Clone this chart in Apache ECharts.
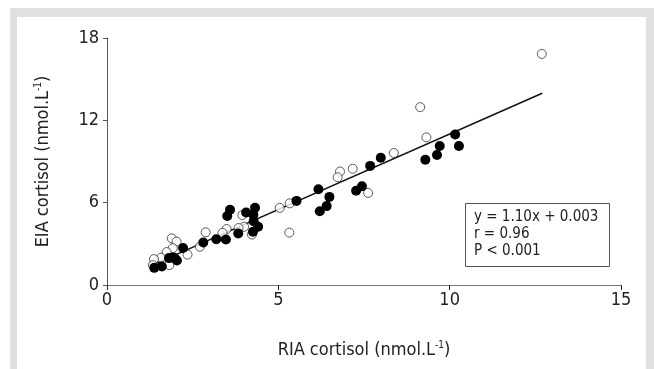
<!DOCTYPE html>
<html>
<head>
<meta charset="utf-8">
<script src="https://cdn.jsdelivr.net/npm/echarts@6/dist/echarts.min.js"></script>
<style>
html,body{margin:0;padding:0;background:#fff;}
#c{width:654px;height:369px;}
</style>
</head>
<body>
<div id="c"></div>
<script>
// Open circles (x = RIA, y = EIA)
const openPoints = [
  [12.69,16.84],[9.14,12.96],[9.32,10.76],[8.37,9.62],[7.17,8.47],[6.80,8.27],[6.73,7.85],
  [7.62,6.71],[5.33,5.95],[5.04,5.62],[5.32,3.82],[3.95,5.10],[4.00,4.24],[3.84,4.15],
  [3.49,4.08],[3.37,3.80],[4.23,3.68],[2.88,3.84],[2.71,2.79],[2.35,2.21],[1.89,3.40],
  [2.03,3.16],[1.92,2.68],[1.74,2.40],[1.58,1.99],[1.37,1.89],[1.34,1.45],[1.82,1.45]
];
// Filled circles
const filledPoints = [
  [10.16,10.97],[10.27,10.13],[9.71,10.13],[9.63,9.47],[9.29,9.13],[7.99,9.27],[7.68,8.68],
  [7.44,7.20],[7.27,6.87],[6.49,6.42],[6.41,5.75],[6.21,5.38],[6.17,6.98],[5.53,6.13],
  [4.32,5.63],[4.27,5.12],[4.06,5.28],[4.28,4.64],[4.41,4.25],[4.26,3.88],[3.83,3.76],
  [3.59,5.48],[3.51,5.03],[3.47,3.32],[3.19,3.33],[2.81,3.10],[2.22,2.69],[2.04,1.78],
  [1.93,2.00],[1.81,1.96],[1.98,1.95],[1.60,1.35],[1.38,1.25]
];
// Regression line endpoints (y = 1.10x + 0.003)
const fitLine = [[1.40,1.54],[12.70,13.97]];
const xTicks = [0,5,10,15];
const yTicks = [0,6,12,18];
const statsLines = ['y = 1.10x + 0.003','r = 0.96','P < 0.001'];

const FONT = '"Liberation Sans Narrow","DejaVu Sans Condensed","Noto Sans",sans-serif';
const nameRich = {
  a:{fontFamily:FONT,fontSize:18,color:'#222',lineHeight:22},
  s:{fontFamily:FONT,fontSize:10,color:'#222',lineHeight:22,padding:[0,0,9,0]}
};
const chart = echarts.init(document.getElementById('c'), null, {renderer:'canvas'});
chart.setOption({
  animation:false,
  backgroundColor:'#ffffff',
  graphic:[
    {type:'rect', z:-10, shape:{x:10,y:8,width:660,height:380}, style:{fill:'#e0e0e0'}},
    {type:'rect', z:-9, shape:{x:17,y:17,width:629,height:370}, style:{fill:'#ffffff'}},
    {type:'rect', z:5, shape:{x:465.5,y:203.5,width:144,height:63}, style:{fill:'#fff',stroke:'#555',lineWidth:1}},
    {type:'text', z:6, left:474, top:209, style:{text:statsLines.join('\n'), font:'15px '+FONT, fill:'#222', lineHeight:17}}
  ],
  grid:{left:107, right:33, top:38, bottom:84},
  xAxis:{
    type:'value', min:0, max:15, interval:5,
    name:'{a|RIA cortisol (nmol.L}{s|-1}{a|)}', nameLocation:'middle', nameGap:54,
    nameTextStyle:{rich:nameRich},
    axisLine:{lineStyle:{color:'#777',width:1}},
    axisTick:{show:true,length:5,lineStyle:{color:'#222'}},
    axisLabel:{fontFamily:FONT,fontSize:18,color:'#222',margin:6},
    splitLine:{show:false}
  },
  yAxis:{
    type:'value', min:0, max:18, interval:6,
    name:'{a|EIA cortisol (nmol.L}{s|-1}{a|)}', nameLocation:'middle', nameGap:53,
    nameTextStyle:{rich:nameRich},
    axisLine:{show:true,lineStyle:{color:'#555',width:1}},
    axisTick:{show:true,length:4,lineStyle:{color:'#555'}},
    axisLabel:{fontFamily:FONT,fontSize:18,color:'#222',margin:8},
    splitLine:{show:false}
  },
  series:[
    {type:'line', data:fitLine, symbol:'none', lineStyle:{color:'#111',width:1.5}, z:3},
    {type:'scatter', data:openPoints, symbol:'circle', symbolSize:9,
     itemStyle:{color:'#fff',borderColor:'#333',borderWidth:1}, z:4},
    {type:'scatter', data:filledPoints, symbol:'circle', symbolSize:10,
     itemStyle:{color:'#000',opacity:1,borderWidth:0}, z:4}
  ]
});
</script>
</body>
</html>
